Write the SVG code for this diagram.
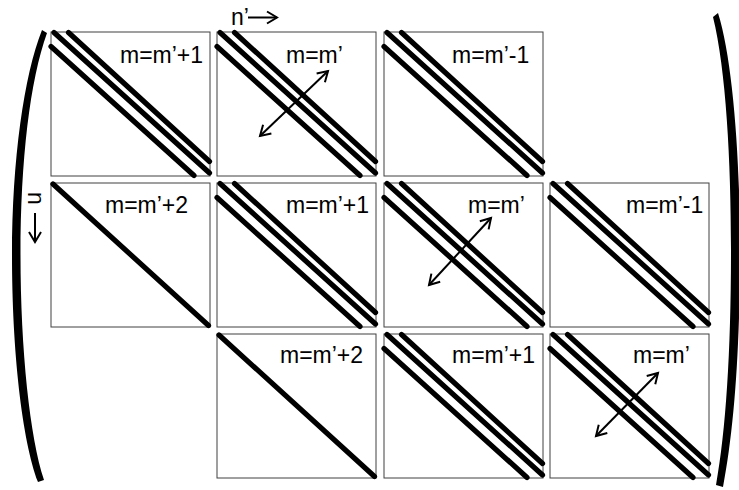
<svg xmlns="http://www.w3.org/2000/svg" xmlns:xlink="http://www.w3.org/1999/xlink" width="739" height="490" viewBox="0 0 739 490">
<style>
.box{fill:#fff;stroke:#404040;stroke-width:1}
.diag{stroke:#000;stroke-width:5.2;stroke-linecap:round;fill:none}
.arr{stroke:#000;stroke-width:2;fill:none}
.lbl{font-family:"Liberation Sans",Arial,sans-serif;font-size:23px;fill:#000}
.paren{fill:#000;stroke:none}
</style>
<defs>
<marker id="head" markerUnits="userSpaceOnUse" markerWidth="24" markerHeight="24" viewBox="-12 -12 24 24" refX="0" refY="0" orient="auto-start-reverse" overflow="visible">
<path d="M-10,-6 L0,0 L-10,6" fill="none" stroke="#000" stroke-width="2" stroke-linejoin="miter"/>
</marker>
<g id="triple" class="diag">
<line x1="0" y1="14.5" x2="143" y2="143.5"/>
<line x1="3" y1="0.5" x2="158.5" y2="141"/>
<line x1="17.5" y1="0.5" x2="158.5" y2="129.5"/>
</g>
<g id="single" class="diag">
<line x1="2" y1="1" x2="157.5" y2="142.5"/>
</g>
<rect id="frame" class="box" x="0" y="0" width="159" height="144"/>
</defs>

<g id="paren-left">
<path class="paren" d="M42,30 C24,75 12,160 12,255 C12,350 22,440 38,482 L44,480 C30,438 20.5,350 20.5,255 C20.5,160 30,80 47,33 Z"/>
</g>
<g id="paren-right">
<path class="paren" d="M718,13 C733,60 740,160 740,250 C740,350 734,430 723,487 L716,485 C726,430 731,350 731,250 C731,160 726,70 713,17 Z"/>
</g>

<g id="axis-n-prime">
<text class="lbl" x="231" y="25" font-size="22">n’</text>
<line class="arr" x1="248" y1="17.5" x2="277" y2="17.5" marker-end="url(#head)"/>
</g>
<g id="axis-n">
<text class="lbl" font-size="22" transform="translate(28,192) rotate(90)">n</text>
<line class="arr" x1="35" y1="213" x2="35" y2="242" marker-end="url(#head)"/>
</g>

<g id="r1c1" transform="translate(51,32)">
<use xlink:href="#frame" href="#frame"/>
<use xlink:href="#triple" href="#triple"/>
<text class="lbl" x="69" y="31">m=m’+1</text>
</g>
<g id="r1c2" transform="translate(217,32)">
<use xlink:href="#frame" href="#frame"/>
<use xlink:href="#triple" href="#triple"/>
<text class="lbl" x="69" y="31">m=m’</text>
</g>
<g id="r1c3" transform="translate(384,32)">
<use xlink:href="#frame" href="#frame"/>
<use xlink:href="#triple" href="#triple"/>
<text class="lbl" x="68" y="31">m=m’-1</text>
</g>

<g id="r2c1" transform="translate(51,183)">
<use xlink:href="#frame" href="#frame"/>
<use xlink:href="#single" href="#single"/>
<text class="lbl" x="54" y="30">m=m’+2</text>
</g>
<g id="r2c2" transform="translate(217,183)">
<use xlink:href="#frame" href="#frame"/>
<use xlink:href="#triple" href="#triple"/>
<text class="lbl" x="69" y="30">m=m’+1</text>
</g>
<g id="r2c3" transform="translate(384,183)">
<use xlink:href="#frame" href="#frame"/>
<use xlink:href="#triple" href="#triple"/>
<text class="lbl" x="84" y="30">m=m’</text>
</g>
<g id="r2c4" transform="translate(550,183)">
<use xlink:href="#frame" href="#frame"/>
<use xlink:href="#triple" href="#triple"/>
<text class="lbl" x="76" y="30">m=m’-1</text>
</g>

<g id="r3c2" transform="translate(217,334)">
<use xlink:href="#frame" href="#frame"/>
<use xlink:href="#single" href="#single"/>
<text class="lbl" x="63" y="29">m=m’+2</text>
</g>
<g id="r3c3" transform="translate(384,334)">
<use xlink:href="#frame" href="#frame"/>
<use xlink:href="#triple" href="#triple"/>
<text class="lbl" x="68" y="29">m=m’+1</text>
</g>
<g id="r3c4" transform="translate(550,334)">
<use xlink:href="#frame" href="#frame"/>
<use xlink:href="#triple" href="#triple"/>
<text class="lbl" x="83" y="29">m=m’</text>
</g>

<g id="connectors">
<line class="arr" x1="260" y1="136" x2="328" y2="71" marker-start="url(#head)" marker-end="url(#head)"/>
<line class="arr" x1="429" y1="285" x2="491" y2="218" marker-start="url(#head)" marker-end="url(#head)"/>
<line class="arr" x1="596" y1="436" x2="658" y2="373" marker-start="url(#head)" marker-end="url(#head)"/>
</g>
</svg>
